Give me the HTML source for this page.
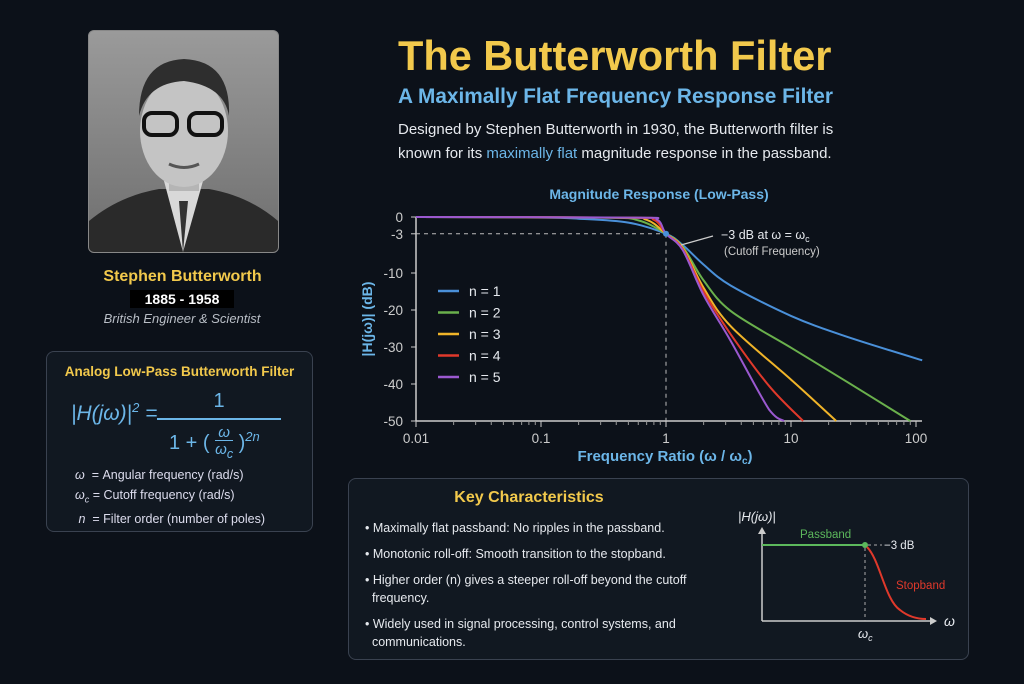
<!DOCTYPE html>
<html><head><meta charset="utf-8">
<style>
body{margin:0;width:1024px;height:684px;background:#0c1119;overflow:hidden;font-family:"Liberation Sans","DejaVu Sans",sans-serif;position:relative;color:#e6e9ee}
.abs{position:absolute}
.box{position:absolute;border:1px solid #3a4250;border-radius:8px;background:#111821}
</style></head>
<body>
<div class="abs" style="left:88px;top:30px;width:189px;height:221px;border-radius:6px;border:1px solid #888;overflow:hidden;background:linear-gradient(#9a9a9a,#6e6e6e)">
<svg width="189" height="221">
<path d="M0 221 L0 190 Q30 165 70 158 L120 158 Q160 165 189 190 L189 221Z" fill="#2a2a2a"/>
<path d="M75 150 L94 221 L114 150Z" fill="#d8d8d8"/>
<path d="M90 170 L94 221 L99 170Z" fill="#333"/>
<rect x="80" y="125" width="30" height="35" fill="#b5b5b5"/>
<ellipse cx="95" cy="100" rx="44" ry="56" fill="#c4c4c4"/>
<path d="M50 85 Q50 30 95 28 Q142 30 140 85 Q135 55 95 50 Q58 52 50 85Z" fill="#2e2e2e"/>
<rect x="55" y="82" width="33" height="22" rx="8" fill="none" stroke="#111" stroke-width="4"/>
<rect x="100" y="82" width="33" height="22" rx="8" fill="none" stroke="#111" stroke-width="4"/>
<path d="M80 133 Q95 140 110 133" stroke="#555" stroke-width="3" fill="none"/>
</svg></div>
<div class="abs" style="left:88px;top:268px;width:189px;text-align:center;color:#f2c94c;font-weight:bold;font-size:16px">Stephen Butterworth</div>
<div class="abs" style="left:130px;top:290px;width:104px;height:18px;background:#000;text-align:center;color:#fff;font-weight:bold;font-size:14px;line-height:18px">1885 - 1958</div>
<div class="abs" style="left:70px;top:311px;width:224px;text-align:center;color:#b9bec6;font-style:italic;font-size:13px">British Engineer &amp; Scientist</div>

<div class="box" style="left:46px;top:351px;width:265px;height:179px">
<div class="abs" style="left:0;top:12px;width:265px;text-align:center;color:#f2c94c;font-weight:bold;font-size:13.5px">Analog Low-Pass Butterworth Filter</div>
<div class="abs" style="left:24px;top:48px;color:#6cb6e8;font-size:21px;font-style:italic">|H(jω)|<sup style="font-size:13px">2</sup> =</div>
<div class="abs" style="left:110px;top:38px;width:124px;text-align:center;color:#6cb6e8;font-size:20px">1</div>
<div class="abs" style="left:110px;top:66px;width:124px;height:2px;background:#6cb6e8"></div>
<div class="abs" style="left:122px;top:72px;color:#6cb6e8;font-size:20px">1 + ( <span style="display:inline-block;vertical-align:middle;text-align:center;font-size:15px;font-style:italic;line-height:17px">ω<br><span style="border-top:1px solid #6cb6e8">ω<sub>c</sub></span></span> )<sup style="font-size:13px;font-style:italic">2n</sup></div>
<div class="abs" style="left:28px;top:114px;font-size:12.5px;line-height:19.5px;color:#dde">
<div><i>ω</i>&nbsp;&nbsp;= Angular frequency (rad/s)</div>
<div><i>ω<sub style="font-size:9px">c</sub></i> = Cutoff frequency (rad/s)</div>
<div>&nbsp;<i>n</i>&nbsp;&nbsp;= Filter order (number of poles)</div></div>
</div>

<div class="abs" style="left:398px;top:32px;color:#f2c94c;font-weight:bold;font-size:41.5px">The Butterworth Filter</div>
<div class="abs" style="left:398px;top:85px;color:#6cb6e8;font-weight:bold;font-size:20.8px">A Maximally Flat Frequency Response Filter</div>
<div class="abs" style="left:398px;top:118px;font-size:15px;line-height:24px;color:#e6e9ee">Designed by Stephen Butterworth in 1930, the Butterworth filter is<br>known for its <span style="color:#6cb6e8">maximally flat</span> magnitude response in the passband.</div>

<svg class="abs" style="left:0;top:0" width="1024" height="684" id="chart"></svg>

<div class="box" style="left:348px;top:478px;width:619px;height:180px">
<div class="abs" style="left:0;top:10px;width:360px;text-align:center;color:#f2c94c;font-weight:bold;font-size:16px">Key Characteristics</div>
<div class="abs" style="left:16px;top:40px;width:370px;font-size:12.5px;line-height:18px;color:#e6e9ee">
<div style="margin-bottom:8px">• Maximally flat passband: No ripples in the passband.</div>
<div style="margin-bottom:8px">• Monotonic roll-off: Smooth transition to the stopband.</div>
<div style="margin-bottom:8px">• Higher order (n) gives a steeper roll-off beyond the cutoff<br>&nbsp;&nbsp;frequency.</div>
<div>• Widely used in signal processing, control systems, and<br>&nbsp;&nbsp;communications.</div></div>
</div>
<svg class="abs" style="left:0;top:0" width="1024" height="684">
<text x="738" y="521" fill="#e6e9ee" font-size="13" font-style="italic">|H(jω)|</text>
<line x1="762" y1="621" x2="762" y2="530" stroke="#ccc" stroke-width="1.5"/><path d="M758 534 L762 527 L766 534Z" fill="#ccc"/>
<line x1="762" y1="621" x2="932" y2="621" stroke="#ccc" stroke-width="1.5"/><path d="M930 617 L937 621 L930 625Z" fill="#ccc"/>
<text x="944" y="626" fill="#e6e9ee" font-size="14" font-style="italic">ω</text>
<line x1="762" y1="545" x2="865" y2="545" stroke="#5cb85c" stroke-width="2"/>
<circle cx="865" cy="545" r="3" fill="#5cb85c"/>
<text x="800" y="538" fill="#5cb85c" font-size="11.5">Passband</text>
<line x1="868" y1="545" x2="882" y2="545" stroke="#aaa" stroke-dasharray="3,3"/>
<text x="884" y="549" fill="#e6e9ee" font-size="11.5">−3 dB</text>
<line x1="865" y1="548" x2="865" y2="621" stroke="#aaa" stroke-dasharray="3,3"/>
<path d="M867 547 C880 560 885 600 900 610 C910 618 920 619 926 619" stroke="#e0392b" stroke-width="2" fill="none"/>
<text x="896" y="589" fill="#e0392b" font-size="11.5">Stopband</text>
<text x="858" y="638" fill="#e6e9ee" font-size="13" font-style="italic">ω<tspan font-size="9" dy="3">c</tspan></text>
</svg>

<script>
const tickDecades=[0.01,0.1,1,10,100];
const tickDecadeLabels=["0.01","0.1","1","10","100"];
const yTicks=[0,-3,-10,-20,-30,-40,-50];
const seriesNames=["n = 1","n = 2","n = 3","n = 4","n = 5"];
const seriesColors=["#4a90d9","#6ab04c","#f0b429","#e0392b","#9b59d0"];
const n1F=[0.01,0.1,0.2,0.5,1,1.36,2,3.3,10,26.8,112];
const n1V=[0,-0.1,-0.3,-1.0,-3,-5,-8.5,-13.4,-21.6,-27,-33.6];
const n2F=[0.01,0.3,0.6,1,1.36,2,3.3,10,26.8,90];
const n2V=[0,-0.1,-0.6,-3,-5.3,-12,-20.3,-30.2,-39,-50];
const n3F=[0.01,0.4,0.7,1,1.36,2,3.3,10,23];
const n3V=[0,-0.1,-0.5,-3,-5.5,-14,-24.4,-38.8,-50];
const n4F=[0.01,0.5,0.8,1,1.36,2,3.3,6.7,12.5];
const n4V=[0,-0.1,-0.5,-3,-5.7,-15,-26.6,-40.6,-50];
const n5F=[0.01,0.55,0.85,1,1.36,2,3.3,6.7,8.8];
const n5V=[0,-0.1,-0.5,-3,-5.9,-16,-28.4,-47,-50];
const allF=[n1F,n2F,n3F,n4F,n5F], allV=[n1V,n2V,n3V,n4V,n5V];

const X0=416,PXD=125;
const xs=f=>X0+(Math.log10(f)+2)*PXD;
const ys=v=>v>=-10?217-v*5.6:273+(-10-v)*3.7;
const svg=document.getElementById('chart');
const NS='http://www.w3.org/2000/svg';
function mk(t,a){const e=document.createElementNS(NS,t);for(const k in a)e.setAttribute(k,a[k]);svg.appendChild(e);return e;}
function clampY(y,a,b){return Math.min(Math.max(y,Math.min(a,b)),Math.max(a,b));}
function smooth(P){let d='M'+P[0][0].toFixed(1)+' '+P[0][1].toFixed(1);
 for(let i=0;i<P.length-1;i++){const p0=P[Math.max(0,i-1)],p1=P[i],p2=P[i+1],p3=P[Math.min(P.length-1,i+2)];
  const c1=[p1[0]+(p2[0]-p0[0])/6,clampY(p1[1]+(p2[1]-p0[1])/6,p1[1],p2[1])],c2=[p2[0]-(p3[0]-p1[0])/6,clampY(p2[1]-(p3[1]-p1[1])/6,p1[1],p2[1])];
  d+=' C'+c1.map(v=>v.toFixed(1)).join(' ')+' '+c2.map(v=>v.toFixed(1)).join(' ')+' '+p2[0].toFixed(1)+' '+p2[1].toFixed(1);}
 return d;}
let e;
e=mk('text',{x:659,y:199,fill:'#6cb6e8','font-size':14,'font-weight':'bold','text-anchor':'middle'});e.textContent='Magnitude Response (Low-Pass)';


e=mk('line',{x1:X0,y1:217,x2:X0,y2:421,stroke:'#ccc','stroke-width':1.5});


e=mk('line',{x1:X0,y1:421,x2:922,y2:421,stroke:'#ccc','stroke-width':1.5});


yTicks.forEach(v=>{const y=ys(v);mk('line',{x1:X0-5,y1:y,x2:X0,y2:y,stroke:'#ccc'});
 const t=mk('text',{x:X0-13,y:y+5,fill:'#ccc','font-size':13.5,'text-anchor':'end'});t.textContent=String(v);
 
 });
tickDecades.forEach((d,i)=>{const x=xs(d);mk('line',{x1:x,y1:421,x2:x,y2:427,stroke:'#ccc'});
 const t=mk('text',{x:x,y:443,fill:'#ccc','font-size':13.5,'text-anchor':'middle'});t.textContent=tickDecadeLabels[i];
 
 
 if(i<4)for(let m=2;m<10;m++){const xm=xs(d*m);mk('line',{x1:xm,y1:421,x2:xm,y2:425,stroke:'#999'});}});
e=mk('text',{x:0,y:0,fill:'#6cb6e8','font-size':14,'font-weight':'bold','text-anchor':'middle',transform:'translate(372 319) rotate(-90)'});e.textContent='|H(jω)| (dB)';


e=mk('text',{x:665,y:461,fill:'#6cb6e8','font-size':15,'font-weight':'bold','text-anchor':'middle'});e.innerHTML='Frequency Ratio (ω / ω<tspan font-size="10" dy="3">c</tspan><tspan dy="-3">)</tspan>';


mk('line',{x1:X0,y1:ys(-3),x2:xs(1),y2:ys(-3),stroke:'#bbb','stroke-dasharray':'4,4'});
mk('line',{x1:xs(1),y1:ys(-3),x2:xs(1),y2:421,stroke:'#bbb','stroke-dasharray':'4,4'});
allF.forEach((F,i)=>{const P=F.map((f,j)=>[xs(f),ys(allV[i][j])]);
 const p=mk('path',{d:smooth(P),stroke:seriesColors[i],'stroke-width':2,fill:'none','stroke-linejoin':'round'});
 
 
 const ly=291+i*21.5;
 const l=mk('line',{x1:438,y1:ly,x2:459,y2:ly,stroke:seriesColors[i],'stroke-width':2.5});
 
 
 const t=mk('text',{x:469,y:ly+5,fill:'#e6e9ee','font-size':14});t.textContent=seriesNames[i];
 
 });
e=mk('circle',{cx:xs(1),cy:ys(-3),r:3,fill:'#4a90d9'});


mk('line',{x1:713,y1:236,x2:681,y2:245,stroke:'#ccc','stroke-width':1.2});
e=mk('text',{x:721,y:239,fill:'#e6e9ee','font-size':12.5});e.innerHTML='−3 dB at ω = ω<tspan font-size="9" dy="3">c</tspan>';


e=mk('text',{x:724,y:255,fill:'#ccc','font-size':11.5});e.textContent='(Cutoff Frequency)';


</script>
</body></html>
